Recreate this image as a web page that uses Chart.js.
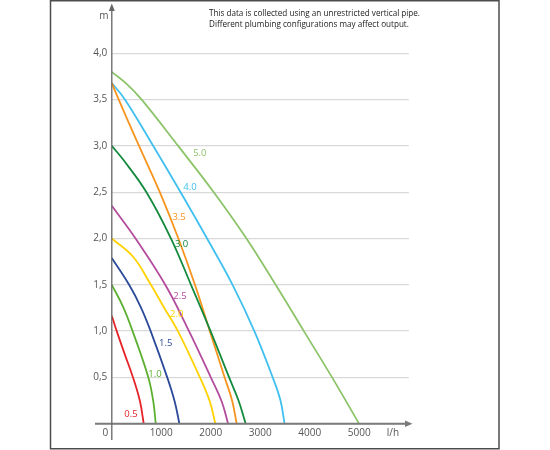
<!DOCTYPE html>
<html><head><meta charset="utf-8">
<script src="https://cdn.jsdelivr.net/npm/chart.js@4"></script>
<style>html,body{margin:0;padding:0;background:#fff}#wrap{position:relative;width:550px;height:450px}</style>
</head><body><div id="wrap"><canvas id="c" width="550" height="450"></canvas></div>
<script>
// Pump curves: [flow l/h, head m]
const curve05 = [[0,1.165],[100,1.0],[255,0.76],[428,0.5],[570,0.24],[645,0]];
const curve10 = [[0,1.5],[226,1.264],[420,1.0],[738,0.5],[838,0.24],[888,0]];
const curve15 = [[0,1.79],[350,1.5],[585,1.26],[785,1.0],[1120,0.5],[1270,0.24],[1366,0]];
const curve20 = [[0,2.0],[434,1.8],[790,1.5],[1060,1.25],[1335,1.0],[1780,0.5],[1980,0.24],[2092,0]];
const curve25 = [[0,2.354],[480,2.0],[1080,1.5],[1560,1.0],[2000,0.5],[2220,0.24],[2350,0]];
const curve30 = [[0,3.0],[233,2.85],[700,2.5],[1196,2.0],[1600,1.5],[1995,1.0],[2370,0.5],[2560,0.25],[2705,0]];
const curve35 = [[0,3.68],[140,3.5],[550,3.0],[970,2.5],[1345,2.0],[1680,1.5],[1980,1.0],[2280,0.5],[2430,0.25],[2523,0]];
const curve40 = [[0,3.68],[268,3.5],[838,3.0],[1390,2.5],[1925,2.0],[2440,1.5],[2880,1.0],[3250,0.5],[3405,0.256],[3490,0]];
const curve50 = [[0,3.8],[300,3.67],[604,3.5],[1340,3.0],[2060,2.5],[2720,2.0],[3310,1.5],[3880,1.0],[4450,0.5],[4995,0]];

const curveNames = ['0.5','1.0','1.5','2.0','2.5','3.0','3.5','4.0','5.0'];
const curveColors = ['#e52329','#5cb031','#2c4a9a','#ffd200','#b44c9e','#138a3d','#f7941d','#3fc0ef','#8dc46a'];
const curves = [curve05,curve10,curve15,curve20,curve25,curve30,curve35,curve40,curve50];

// curve label anchors (flow, head)
const labelFlow = [388, 873, 1089, 1311, 1378, 1410, 1360, 1580, 1778];
const labelHead = [0.10, 0.535, 0.87, 1.18, 1.38, 1.94, 2.23, 2.55, 2.92];

const xTicks = [0,1000,2000,3000,4000,5000];
const yTicks = [0,0.5,1.0,1.5,2.0,2.5,3.0,3.5,4.0];
const xUnit = 'l/h';
const yUnit = 'm';
const headerLines = ['This data is collected using an unrestricted vertical pipe.','Different plumbing configurations may affect output.'];

const FONT = "'Open Sans', 'Noto Sans', sans-serif";

const decor = {
  id:'decor',
  afterDraw(chart){
    const ctx = chart.ctx;
    const xs = chart.scales.x, ys = chart.scales.y;
    const x0 = xs.getPixelForValue(0), y0 = ys.getPixelForValue(0);
    ctx.save();
    // frame
    ctx.strokeStyle = '#4d4d4d'; ctx.lineWidth = 1.5;
    ctx.strokeRect(50.5, 0.75, 448.5, 448);
    // x axis
    ctx.strokeStyle = '#7a7a7a'; ctx.fillStyle = '#7a7a7a'; ctx.lineWidth = 2;
    ctx.beginPath(); ctx.moveTo(95, y0); ctx.lineTo(406, y0); ctx.stroke();
    ctx.beginPath(); ctx.moveTo(412.5, y0); ctx.lineTo(405, y0-3.2); ctx.lineTo(405, y0+3.2); ctx.closePath(); ctx.fill();
    // y axis
    ctx.strokeStyle = '#666'; ctx.fillStyle = '#666'; ctx.lineWidth = 1.3;
    ctx.beginPath(); ctx.moveTo(x0, 440); ctx.lineTo(x0, 9); ctx.stroke();
    ctx.beginPath(); ctx.moveTo(x0, 3.5); ctx.lineTo(x0-3, 11); ctx.lineTo(x0+3, 11); ctx.closePath(); ctx.fill();
    // units and origin
    ctx.fillStyle = '#555'; ctx.font = '10px ' + FONT; ctx.textAlign = 'center'; ctx.textBaseline = 'middle';
    ctx.fillText('0', 105.3, 433.3);
    ctx.fillText(xUnit, 393, 433);
    ctx.fillText(yUnit, 104, 16.5);
    // header
    ctx.fillStyle = '#1a1a1a'; ctx.font = '9.5px ' + FONT; ctx.textAlign = 'left';
    const w = ctx.measureText(headerLines[0]).width;
    const sx = 211 / w;
    headerLines.forEach((t,i)=>{
      ctx.save(); ctx.translate(209, 13.5 + i*11); ctx.scale(sx,1); ctx.fillText(t,0,0); ctx.restore();
    });
    // curve labels
    ctx.font = '9.5px ' + FONT; ctx.textAlign = 'center';
    curveNames.forEach((n,i)=>{
      ctx.fillStyle = curveColors[i];
      ctx.fillText(n, xs.getPixelForValue(labelFlow[i]), ys.getPixelForValue(labelHead[i]));
    });
    ctx.restore();
  }
};

new Chart(document.getElementById('c').getContext('2d'), {
  type:'line',
  data:{
    datasets: curves.map((c,i)=>({
      label: curveNames[i],
      data: c.map(p=>({x:p[0], y:p[1]})),
      borderColor: curveColors[i],
      borderWidth: 1.8,
      pointRadius: 0,
      fill: false,
      tension: 0.4
    }))
  },
  options:{
    responsive:false, animation:false,
    layout:{padding:{top:16.3, right:141.2, bottom:0, left:0}},
    plugins:{legend:{display:false}, tooltip:{enabled:false}},
    scales:{
      x:{type:'linear', min:0, max:6000,
        afterFit(s){ s.height = 26.3; },
        afterBuildTicks(s){ s.ticks = xTicks.map(v=>({value:v})); },
        grid:{display:false, drawTicks:false}, border:{display:false},
        ticks:{padding:3.5, color:'#555', maxRotation:0, autoSkip:false, font:{family:FONT, size:10},
          callback:v=> v===0 ? '' : String(v)}
      },
      y:{type:'linear', min:0, max:4.4,
        afterFit(s){ s.width = 111.8; },
        afterBuildTicks(s){ s.ticks = yTicks.map(v=>({value:v})); },
        grid:{color:'#d9d9d9', lineWidth:1.3, drawTicks:false}, border:{display:false},
        ticks:{padding:4.5, color:'#555', font:{family:FONT, size:10},
          callback:v=> v===0 ? '' : Number(v).toFixed(1).replace('.', ',')}
      }
    }
  },
  plugins:[decor]
});
</script></body></html>
